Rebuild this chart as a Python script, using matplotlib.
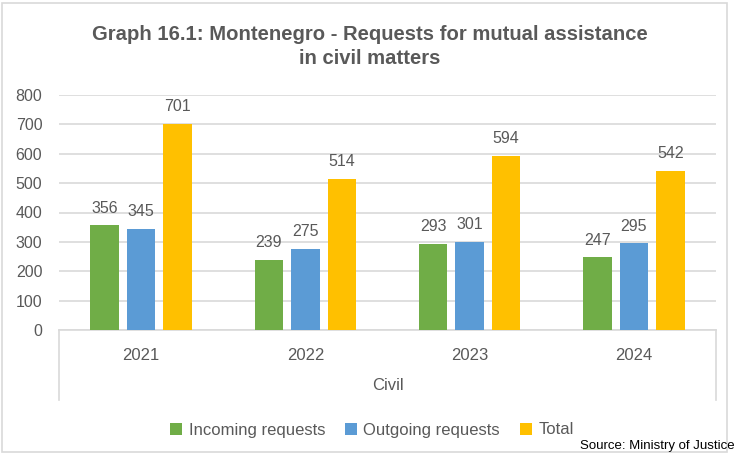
import matplotlib
matplotlib.use("Agg")
import matplotlib.pyplot as plt
import numpy as np
from matplotlib.patches import Rectangle

years = ["2021", "2022", "2023", "2024"]
incoming = [356, 239, 293, 247]
outgoing = [345, 275, 301, 295]
total = [701, 514, 594, 542]

series = [
    ("Incoming requests", incoming, "#70AD47"),
    ("Outgoing requests", outgoing, "#5B9BD5"),
    ("Total", total, "#FFC000"),
]

plt.rcParams["font.family"] = ["Liberation Sans", "DejaVu Sans"]
grey = "#595959"
line_grey = "#D9D9D9"

fig = plt.figure(figsize=(7.37, 4.54), dpi=100)
ax = fig.add_axes([59 / 737, 124 / 454, 657 / 737, 235 / 454])

x = np.arange(len(years))
width = 0.174
step = 0.222
for i, (name, vals, color) in enumerate(series):
    pos = x + (i - 1) * step
    bars = ax.bar(pos, vals, width, color=color, label=name, zorder=3)
    for b, v in zip(bars, vals):
        ax.annotate(str(v), (b.get_x() + b.get_width() / 2, v), xytext=(0, 7),
                    textcoords="offset points", ha="center", va="bottom",
                    fontsize=11.5, color=grey)

ax.set_xlim(-0.5, len(years) - 0.5)
ax.set_ylim(0, 800)
ax.set_yticks(range(0, 801, 100))
ax.grid(axis="y", color=line_grey, linewidth=1.2, zorder=0)
ax.set_xticks(x)
ax.set_xticklabels(years)
ax.tick_params(axis="x", length=0, pad=13, labelsize=12, labelcolor=grey)
ax.tick_params(axis="y", length=0, pad=12, labelsize=11.5, labelcolor=grey)
for s in ["top", "right", "left"]:
    ax.spines[s].set_visible(False)
ax.spines["bottom"].set_color(line_grey)
ax.spines["bottom"].set_linewidth(1.2)

# category group frame below the axis
for xv in (0, 1):
    ax.plot([xv, xv], [0, -70 / 235], transform=ax.transAxes, color=line_grey,
            linewidth=1.2, clip_on=False)
ax.text(0.5, -56 / 235, "Civil", transform=ax.transAxes, ha="center", va="center",
        fontsize=12, color=grey)

fig.text(370 / 737, 1 - 46.5 / 454, "Graph 16.1: Montenegro - Requests for mutual assistance\nin civil matters",
         ha="center", va="center", fontsize=14.6, fontweight="bold", color=grey, linespacing=1.3)

ax.legend(loc="center", bbox_to_anchor=(372 / 737, 24 / 454), bbox_transform=fig.transFigure,
          ncol=3, frameon=False, fontsize=12, labelcolor=grey, handlelength=0.7,
          handleheight=0.7, handletextpad=0.4, columnspacing=1.2)

fig.text(735 / 737, 8 / 454, "Source: Ministry of Justice", ha="right", va="center",
         fontsize=9.5, color="black")

fig.patches.append(Rectangle((2 / 737, 2 / 454), 725 / 737, 449 / 454, transform=fig.transFigure,
                             fill=False, edgecolor=line_grey, linewidth=1.2))

fig.savefig("out.png", dpi=100)
